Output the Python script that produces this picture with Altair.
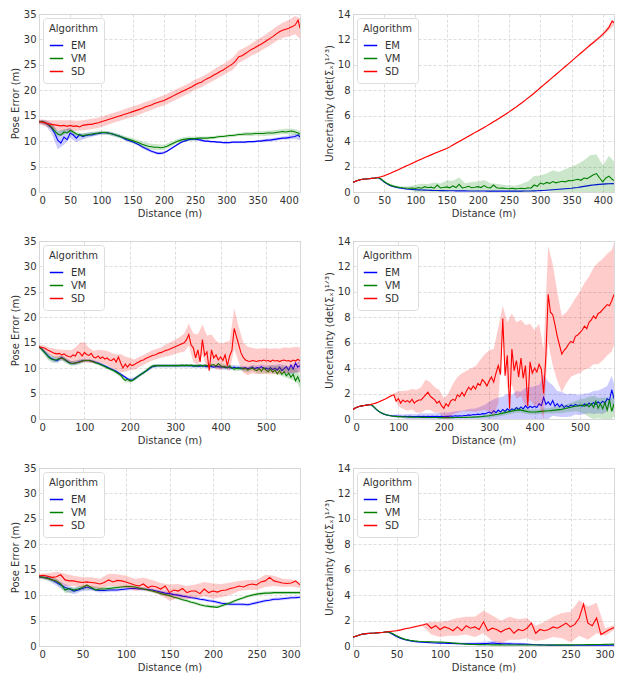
import altair as alt
import pandas as pd

ALGS = ["EM", "VM", "SD"]
COLORS = ["#0000ff", "#008000", "#ff0000"]

# ---------------- Row 1 (0 - 418 m) ----------------
dist_r1 = list(range(0, 416, 5)) + [418]

pose_r1 = {
    "EM": [13.8, 13.9, 13.6, 13.2, 12.6, 11.6, 10.2, 9.6, 10.8, 10.3,
           11.6, 11.2, 10.6, 11.3, 10.9, 11.1, 11.2, 11.2, 11.4, 11.5,
           11.6, 11.7, 11.6, 11.5, 11.3, 11.1, 10.9, 10.6, 10.3, 10.1,
           9.9, 9.6, 9.3, 8.9, 8.6, 8.3, 8.0, 7.8, 7.6, 7.6,
           7.7, 8.0, 8.4, 8.8, 9.2, 9.6, 9.9, 10.1, 10.3, 10.4,
           10.4, 10.3, 10.2, 10.0, 10.0, 9.9, 9.9, 9.8, 9.8, 9.7,
           9.7, 9.7, 9.8, 9.8, 9.8, 9.8, 9.8, 9.9, 9.9, 9.9,
           10.0, 10.0, 10.1, 10.2, 10.2, 10.3, 10.4, 10.5, 10.6, 10.6,
           10.7, 10.8, 10.9, 11.2, 10.8],
    "VM": [13.8, 13.9, 13.6, 13.3, 12.8, 12.0, 11.4, 11.2, 11.8, 11.6,
           12.1, 11.8, 11.4, 11.2, 11.1, 11.2, 11.3, 11.4, 11.5, 11.6,
           11.7, 11.7, 11.6, 11.5, 11.3, 11.1, 10.9, 10.7, 10.5, 10.3,
           10.1, 9.9, 9.7, 9.4, 9.2, 9.0, 8.9, 8.8, 8.8, 8.7,
           8.8, 9.0, 9.3, 9.6, 9.9, 10.1, 10.3, 10.4, 10.5, 10.5,
           10.5, 10.6, 10.6, 10.6, 10.6, 10.7, 10.7, 10.8, 10.9, 10.9,
           11.0, 11.1, 11.1, 11.2, 11.3, 11.3, 11.4, 11.4, 11.4, 11.5,
           11.5, 11.5, 11.5, 11.6, 11.6, 11.6, 11.7, 11.8, 11.9, 11.8,
           11.9, 12.0, 11.8, 11.6, 11.4],
    "SD": [13.8, 13.7, 13.6, 13.4, 13.3, 13.2, 13.1, 13.0, 13.1, 12.9,
           13.1, 12.9, 13.0, 12.8, 13.1, 13.2, 13.3, 13.3, 13.5, 13.6,
           13.8, 14.0, 14.2, 14.4, 14.6, 14.8, 15.0, 15.2, 15.4, 15.6,
           15.8, 16.0, 16.2, 16.4, 16.7, 16.9, 17.1, 17.4, 17.6, 17.8,
           18.0, 18.3, 18.6, 18.9, 19.2, 19.5, 19.8, 20.1, 20.4, 20.7,
           21.1, 21.4, 21.6, 22.0, 22.3, 22.6, 23.0, 23.3, 23.7, 24.0,
           24.4, 24.8, 25.2, 25.8, 26.6, 26.8, 27.2, 27.6, 28.0, 28.3,
           28.7, 29.0, 29.4, 29.8, 30.2, 30.6, 31.1, 31.5, 31.8, 32.0,
           32.2, 32.5, 32.8, 33.8, 32.2],
}
pose_r1_band = {
    "EM": [0.3, 0.5, 1.0, 1.8, 1.5, 1.0, 0.8, 0.6, 0.5, 0.4,
           0.3, 0.3, 0.3, 0.3, 0.3, 0.3, 0.3, 0.3, 0.3, 0.3,
           0.3, 0.2, 0.2, 0.2, 0.2, 0.2, 0.2, 0.2, 0.2, 0.2,
           0.2, 0.2, 0.2, 0.2, 0.2, 0.2, 0.3, 0.3, 0.3, 0.3,
           0.4, 0.5, 0.6],
    "VM": [0.3, 0.4, 0.6, 0.6, 0.5, 0.5, 0.4, 0.4, 0.4, 0.4,
           0.4, 0.4, 0.4, 0.4, 0.4, 0.5, 0.5, 0.6, 0.6, 0.6,
           0.5, 0.5, 0.4, 0.4, 0.4, 0.4, 0.3, 0.3, 0.3, 0.3,
           0.3, 0.3, 0.3, 0.4, 0.4, 0.4, 0.5, 0.5, 0.5, 0.5,
           0.6, 0.6, 0.6],
    "SD": [0.5, 0.6, 0.8, 1.0, 1.0, 1.0, 1.0, 1.0, 1.0, 1.0,
           1.0, 1.0, 1.0, 1.0, 1.0, 1.0, 1.0, 1.0, 1.0, 1.0,
           1.0, 1.0, 1.0, 1.0, 1.0, 1.0, 1.0, 1.0, 1.1, 1.1,
           1.1, 1.2, 1.2, 1.2, 1.2, 1.3, 1.3, 1.4, 1.4, 1.5,
           1.6, 1.8, 2.0],
}

unc_r1 = {
    "EM": [0.75, 0.86, 0.95, 1.0, 1.02, 1.04, 1.07, 1.10, 1.14, 1.0,
           0.78, 0.62, 0.50, 0.42, 0.36, 0.31, 0.27, 0.24, 0.22, 0.20,
           0.18, 0.17, 0.16, 0.15, 0.14, 0.13, 0.12, 0.12, 0.11, 0.11,
           0.10, 0.10, 0.10, 0.09, 0.09, 0.09, 0.09, 0.08, 0.08, 0.08,
           0.08, 0.08, 0.08, 0.07, 0.07, 0.07, 0.07, 0.07, 0.07, 0.07,
           0.07, 0.07, 0.07, 0.07, 0.07, 0.08, 0.08, 0.08, 0.09, 0.10,
           0.11, 0.12, 0.14, 0.16, 0.18, 0.20, 0.22, 0.24, 0.26, 0.28,
           0.30, 0.33, 0.36, 0.40, 0.44, 0.48, 0.52, 0.55, 0.58, 0.60,
           0.62, 0.64, 0.65, 0.66, 0.65],
    "VM": [0.75, 0.86, 0.95, 1.0, 1.02, 1.04, 1.07, 1.10, 1.14, 1.02,
           0.82, 0.66, 0.54, 0.46, 0.40, 0.36, 0.33, 0.31, 0.30, 0.32,
           0.28, 0.35, 0.30, 0.42, 0.33, 0.38, 0.30, 0.55, 0.32, 0.36,
           0.40, 0.33, 0.48, 0.35, 0.60, 0.32, 0.38, 0.45, 0.33, 0.37,
           0.42, 0.35, 0.50, 0.36, 0.33, 0.55, 0.34, 0.30, 0.32, 0.28,
           0.26, 0.30, 0.25, 0.27, 0.30, 0.26, 0.33, 0.30, 0.55, 0.45,
           0.70, 0.62, 0.75, 0.68, 0.82, 0.72, 0.78, 0.85, 0.80, 0.90,
           0.88, 0.95, 1.00, 0.92, 1.10, 1.05, 1.20, 1.35, 1.45, 1.10,
           0.80, 1.10, 1.25, 1.00, 0.90],
    "SD": [0.75, 0.86, 0.95, 1.0, 1.02, 1.04, 1.07, 1.10, 1.14, 1.20,
           1.28, 1.38, 1.48, 1.59, 1.70, 1.81, 1.93, 2.04, 2.15, 2.27,
           2.38, 2.49, 2.60, 2.71, 2.82, 2.92, 3.02, 3.12, 3.22, 3.32,
           3.42, 3.55, 3.69, 3.83, 3.97, 4.11, 4.25, 4.39, 4.53, 4.67,
           4.80, 4.94, 5.08, 5.22, 5.37, 5.52, 5.67, 5.82, 5.98, 6.14,
           6.30, 6.47, 6.64, 6.82, 7.00, 7.19, 7.38, 7.57, 7.77, 7.98,
           8.20, 8.40, 8.61, 8.82, 9.03, 9.24, 9.45, 9.66, 9.87, 10.08,
           10.30, 10.51, 10.72, 10.93, 11.14, 11.35, 11.56, 11.76, 11.97, 12.18,
           12.40, 12.65, 12.95, 13.45, 13.30],
}
unc_r1_band = {
    "EM": [0.03, 0.03, 0.03, 0.03, 0.05, 0.06, 0.06, 0.05, 0.05, 0.04,
           0.03, 0.03, 0.03, 0.03, 0.03, 0.03, 0.03, 0.03, 0.03, 0.03,
           0.03, 0.03, 0.03, 0.03, 0.03, 0.03, 0.03, 0.03, 0.03, 0.03,
           0.03, 0.03, 0.03, 0.03, 0.03, 0.04, 0.04, 0.05, 0.05, 0.05,
           0.05, 0.05, 0.05],
    "VM": [0.03, 0.03, 0.03, 0.03, 0.05, 0.08, 0.08, 0.10, 0.10, 0.15,
           0.30, 0.35, 0.30, 0.45, 0.35, 0.50, 0.40, 0.55, 0.30, 0.45,
           0.40, 0.45, 0.35, 0.30, 0.25, 0.25, 0.25, 0.35, 0.50, 0.70,
           0.60, 0.70, 0.90, 0.80, 1.00, 1.10, 1.20, 1.40, 1.70, 1.50,
           1.30, 1.60, 1.50],
    "SD": [0.03, 0.03, 0.03, 0.03, 0.04, 0.04, 0.04, 0.05, 0.05, 0.05,
           0.05, 0.05, 0.05, 0.05, 0.05, 0.05, 0.05, 0.05, 0.05, 0.05,
           0.05, 0.05, 0.05, 0.05, 0.05, 0.05, 0.05, 0.05, 0.05, 0.05,
           0.05, 0.05, 0.05, 0.05, 0.05, 0.05, 0.06, 0.08, 0.10, 0.10,
           0.15, 0.20, 0.20],
}

# ---------------- Row 2 (0 - 575 m) ----------------
dist_r2 = list(range(0, 576, 5))

pose_r2 = {
    "EM": [14.2, 13.9, 13.4, 12.9, 12.4, 12.0, 11.8, 11.6, 11.5, 11.8,
           12.1, 11.8, 11.5, 11.2, 11.0, 10.9, 11.0, 11.1, 11.3, 11.4,
           11.5, 11.5, 11.5, 11.4, 11.3, 11.1, 11.0, 10.8, 10.6, 10.4,
           10.2, 10.0, 9.8, 9.6, 9.4, 9.1, 8.8, 8.5, 8.2, 7.9,
           7.7, 7.6, 7.9, 8.2, 8.5, 8.8, 9.1, 9.4, 9.7, 10.0,
           10.3, 10.4, 10.5, 10.5, 10.5, 10.5, 10.5, 10.5, 10.5, 10.5,
           10.5, 10.5, 10.5, 10.5, 10.5, 10.5, 10.5, 10.5, 10.4, 10.5,
           10.4, 10.4, 10.5, 10.4, 10.3, 10.4, 10.3, 10.2, 10.3, 10.3,
           10.2, 10.3, 10.1, 10.2, 10.1, 10.0, 10.2, 10.0, 10.1, 9.9,
           10.0, 10.1, 9.9, 10.0, 10.2, 9.9, 10.1, 10.0, 10.3, 9.9,
           10.0, 9.8, 10.1, 9.7, 10.0, 9.6, 10.2, 9.5, 9.9, 10.3,
           9.6, 10.6, 9.8, 11.0, 10.2, 10.5],
    "VM": [14.2, 13.8, 13.3, 12.8, 12.3, 11.9, 11.7, 11.6, 11.7, 11.9,
           12.0, 11.8, 11.4, 11.1, 10.9, 10.9, 11.0, 11.1, 11.2, 11.4,
           11.5, 11.5, 11.5, 11.4, 11.2, 11.0, 10.9, 10.7, 10.5, 10.3,
           10.1, 9.9, 9.7, 9.5, 9.2, 8.9, 8.6, 8.0, 7.6, 7.8,
           7.5, 7.5, 7.8, 8.1, 8.5, 8.8, 9.1, 9.4, 9.8, 10.2,
           10.4, 10.5, 10.5, 10.5, 10.5, 10.5, 10.5, 10.5, 10.5, 10.5,
           10.5, 10.5, 10.5, 10.6, 10.5, 10.6, 10.5, 10.6, 10.5, 10.4,
           10.5, 10.6, 10.4, 10.6, 10.5, 10.3, 10.6, 10.7, 10.4, 10.9,
           10.5, 10.2, 10.3, 10.0, 10.4, 10.0, 9.8, 10.0, 9.9, 10.1,
           9.8, 10.0, 9.6, 9.9, 10.0, 9.7, 9.5, 9.9, 9.4, 10.1,
           9.6, 9.3, 9.8, 9.2, 9.6, 8.9, 9.5, 8.8, 9.3, 8.5,
           9.0, 8.2, 8.8, 7.5, 8.3, 7.2],
    "SD": [14.2, 14.1, 14.0, 13.8, 13.5, 13.3, 13.1, 12.9, 12.8, 12.9,
           12.6, 12.8, 12.5, 12.3, 12.2, 12.6, 12.4, 13.2, 13.0, 12.4,
           13.1, 12.7, 12.5, 12.9, 12.2, 12.0, 12.4, 11.9, 12.2, 11.8,
           12.0, 11.6, 11.5, 11.9, 11.2, 12.2, 11.0, 10.0, 10.8, 10.2,
           10.8, 10.5, 10.7, 11.0, 11.2, 11.5, 11.6, 11.9, 12.1, 12.3,
           12.5, 12.6, 12.8, 13.0, 13.1, 13.3, 13.5, 13.6, 13.8, 14.0,
           14.2, 14.4, 14.6, 14.8, 15.0, 15.6, 16.6, 14.6, 14.0, 12.0,
           13.6, 11.2, 15.6, 12.5, 13.2, 9.5, 13.6, 12.0, 12.6, 11.6,
           12.2, 11.5, 12.6, 10.5, 12.4, 13.5, 17.8, 16.2, 14.6, 13.0,
           12.1, 11.6, 11.4, 11.3, 11.5, 11.4, 11.3, 11.5, 11.4, 11.6,
           11.4, 11.5, 11.3, 11.6, 11.4, 11.5, 11.3, 11.5, 11.6, 11.4,
           11.5, 11.3, 11.6, 11.4, 11.7, 11.5],
}
pose_r2_band = {
    "EM": [0.3, 0.4, 0.5, 0.5, 0.5, 0.5, 0.4, 0.4, 0.4, 0.4,
           0.3, 0.3, 0.3, 0.3, 0.3, 0.3, 0.3, 0.3, 0.3, 0.3,
           0.3, 0.3, 0.3, 0.3, 0.3, 0.3, 0.3, 0.3, 0.3, 0.3,
           0.3, 0.3, 0.3, 0.3, 0.3, 0.3, 0.3, 0.3, 0.3, 0.3,
           0.4, 0.4, 0.4, 0.4, 0.4, 0.4, 0.4, 0.4, 0.4, 0.4,
           0.5, 0.5, 0.6, 0.6, 0.7, 0.8, 0.9, 1.0,
           1.0],
    "VM": [0.3, 0.5, 0.7, 0.7, 0.6, 0.5, 0.5, 0.5, 0.5, 0.5,
           0.3, 0.3, 0.3, 0.3, 0.3, 0.3, 0.3, 0.4, 0.4, 0.4,
           0.3, 0.3, 0.3, 0.3, 0.3, 0.3, 0.3, 0.3, 0.3, 0.3,
           0.3, 0.3, 0.3, 0.3, 0.3, 0.3, 0.3, 0.3, 0.3, 0.3,
           0.4, 0.4, 0.4, 0.4, 0.4, 0.4, 0.5, 0.5, 0.5, 0.5,
           0.6, 0.7, 0.8, 0.9, 1.0, 1.1, 1.2, 1.3,
           1.3],
    "SD": [0.3, 0.5, 0.6, 0.8, 0.9, 1.0, 1.1, 1.3, 1.6, 2.0,
           2.0, 1.5, 1.2, 1.2, 1.3, 1.4, 1.5, 1.5, 1.8, 1.5,
           1.2, 1.0, 1.0, 1.0, 1.0, 1.0, 1.0, 1.0, 1.2, 1.3,
           1.4, 1.5, 1.8, 2.2, 2.8, 3.0, 3.0, 3.2, 3.0, 2.8,
           2.6, 2.5, 3.0, 4.0, 3.5, 3.0, 2.8, 2.5, 2.5, 2.5,
           2.5, 2.5, 2.5, 2.5, 2.5, 2.5, 2.5, 2.5,
           2.5],
}

unc_r2 = {
    "EM": [0.75, 0.86, 0.95, 1.0, 1.03, 1.06, 1.09, 1.12, 1.12, 0.98,
           0.80, 0.64, 0.52, 0.43, 0.36, 0.31, 0.28, 0.25, 0.24, 0.23,
           0.22, 0.21, 0.20, 0.22, 0.19, 0.21, 0.20, 0.19, 0.20, 0.21,
           0.20, 0.22, 0.19, 0.21, 0.20, 0.22, 0.19, 0.21, 0.20, 0.22,
           0.20, 0.22, 0.21, 0.24, 0.22, 0.25, 0.23, 0.26, 0.24, 0.27,
           0.28, 0.32, 0.30, 0.35, 0.33, 0.38, 0.36, 0.42, 0.40, 0.48,
           0.55, 0.45, 0.65, 0.50, 0.70, 0.55, 0.75, 0.60, 0.80, 0.65,
           0.80, 0.70, 0.90, 0.75, 0.95, 0.80, 1.05, 0.85, 1.00, 0.90,
           1.00, 0.90, 1.20, 1.05, 1.70, 1.15, 1.35, 1.10, 1.45, 1.00,
           1.20, 0.95, 1.15, 0.90, 1.05, 0.95, 1.10, 1.00, 1.15, 1.05,
           1.10, 1.00, 1.20, 1.05, 1.25, 1.10, 1.30, 1.15, 1.35, 1.20,
           1.40, 1.25, 1.60, 1.45, 2.30, 1.60],
    "VM": [0.75, 0.86, 0.95, 1.0, 1.03, 1.06, 1.09, 1.12, 1.12, 1.00,
           0.82, 0.66, 0.53, 0.44, 0.37, 0.31, 0.27, 0.24, 0.22, 0.20,
           0.19, 0.18, 0.17, 0.16, 0.16, 0.15, 0.15, 0.14, 0.14, 0.14,
           0.13, 0.13, 0.13, 0.12, 0.12, 0.12, 0.12, 0.12, 0.11, 0.11,
           0.11, 0.11, 0.11, 0.11, 0.11, 0.12, 0.12, 0.12, 0.12, 0.13,
           0.13, 0.14, 0.14, 0.15, 0.16, 0.17, 0.18, 0.20, 0.22, 0.24,
           0.26, 0.29, 0.32, 0.35, 0.38, 0.42, 0.46, 0.50, 0.54, 0.58,
           0.62, 0.66, 0.70, 0.72, 0.70, 0.66, 0.62, 0.58, 0.56, 0.55,
           0.55, 0.56, 0.58, 0.60, 0.62, 0.63, 0.65, 0.66, 0.68, 0.70,
           0.72, 0.74, 0.76, 0.80, 0.84, 0.88, 0.92, 0.96, 1.00, 1.02,
           1.05, 1.10, 1.00, 1.15, 0.95, 1.20, 0.90, 1.40, 0.85, 1.20,
           0.80, 1.30, 0.70, 1.50, 0.60, 1.20],
    "SD": [0.75, 0.86, 0.95, 1.0, 1.03, 1.06, 1.09, 1.12, 1.15, 1.20,
           1.25, 1.32, 1.40, 1.48, 1.56, 1.65, 1.75, 1.85, 1.90, 1.40,
           1.60, 1.25, 1.50, 1.35, 1.45, 1.30, 1.55, 1.25, 1.40, 1.50,
           1.50, 1.70, 1.90, 2.10, 1.80, 1.65, 1.50, 1.25, 1.40, 1.05,
           0.85, 1.20, 1.00, 1.40, 1.55, 1.45, 1.90, 1.75, 2.10, 1.80,
           2.20, 2.50, 2.30, 2.60, 2.35, 2.80, 2.65, 3.10, 2.90, 2.60,
           3.00, 3.30, 2.90, 3.60, 4.20, 3.50, 7.90, 3.40, 5.00, 0.80,
           5.50, 3.80, 4.60, 3.30, 4.80, 3.20, 4.20, 1.00, 4.50, 3.60,
           4.00, 3.70, 4.30, 3.90, 2.00, 5.00, 9.80, 8.40, 8.20, 7.40,
           6.50, 5.80, 5.10, 5.40, 5.60, 5.90, 6.10, 6.00, 6.50, 6.60,
           6.80, 7.00, 7.30, 7.10, 7.60, 7.80, 8.10, 7.90, 8.30, 8.40,
           8.60, 8.80, 9.00, 8.90, 9.30, 9.80],
}
unc_r2_band = {
    "EM": [0.02, 0.03, 0.03, 0.03, 0.03, 0.05, 0.08, 0.08, 0.08, 0.10,
           0.15, 0.15, 0.20, 0.20, 0.20, 0.25, 0.25, 0.25, 0.25, 0.30,
           0.30, 0.30, 0.35, 0.40, 0.40, 0.45, 0.50, 0.50, 0.60, 0.70,
           0.80, 0.90, 1.00, 1.00, 1.20, 1.10, 1.30, 1.20, 1.40, 1.50,
           1.60, 1.50, 1.80, 1.60, 1.20, 1.00, 1.00, 0.90, 0.90, 0.80,
           0.80, 0.80, 0.80, 0.90, 0.90, 1.00, 1.00, 1.10,
           1.20],
    "VM": [0.02, 0.03, 0.03, 0.03, 0.03, 0.05, 0.06, 0.06, 0.06, 0.06,
           0.06, 0.05, 0.05, 0.05, 0.05, 0.05, 0.05, 0.05, 0.05, 0.05,
           0.05, 0.05, 0.05, 0.05, 0.05, 0.06, 0.07, 0.08, 0.10, 0.12,
           0.14, 0.16, 0.18, 0.20, 0.20, 0.20, 0.20, 0.20, 0.20, 0.20,
           0.20, 0.20, 0.20, 0.20, 0.25, 0.25, 0.30, 0.30, 0.35, 0.40,
           0.50, 0.60, 0.80, 0.90, 0.80, 0.90, 1.00, 1.00,
           1.00],
    "SD": [0.02, 0.03, 0.03, 0.03, 0.03, 0.04, 0.04, 0.05, 0.06, 0.10,
           0.60, 0.70, 0.80, 0.80, 0.90, 1.00, 1.20, 1.10, 1.00, 0.90,
           0.80, 1.00, 1.20, 1.40, 1.50, 1.60, 1.70, 1.80, 2.00, 2.20,
           2.40, 2.60, 3.00, 1.00, 2.60, 2.80, 3.00, 3.00, 3.20, 3.00,
           3.00, 3.20, 3.50, 3.80, 4.00, 3.50, 3.00, 2.80, 2.80, 3.00,
           3.20, 3.40, 3.60, 3.80, 4.00, 4.00, 4.00, 4.00,
           4.00],
}

# ---------------- Row 3 (0 - 300 m) ----------------
dist_r3 = list(range(0, 301, 5))

pose_r3 = {
    "EM": [13.6, 13.5, 13.4, 13.0, 12.5, 12.0, 11.5, 11.2, 10.8, 11.0,
           11.3, 11.6, 11.3, 11.0, 10.9, 10.9, 11.0, 11.0, 11.0, 11.1,
           11.2, 11.3, 11.3, 11.2, 11.2, 11.1, 11.0, 10.8, 10.6, 10.4,
           10.3, 10.1, 10.0, 9.8, 9.7, 9.5, 9.4, 9.2, 9.1, 8.9,
           8.8, 8.6, 8.4, 8.3, 8.2, 8.2, 8.2, 8.2, 8.1, 8.3,
           8.5, 8.7, 8.9, 9.0, 9.2, 9.2, 9.3, 9.4, 9.5, 9.5,
           9.6],
    "VM": [13.6, 13.5, 13.3, 13.0, 12.8, 12.2, 11.0, 11.3, 11.0, 11.2,
           11.5, 12.0, 11.5, 11.0, 11.2, 11.2, 11.3, 11.4, 11.5, 11.6,
           11.7, 11.7, 11.6, 11.4, 11.2, 11.0, 10.8, 10.6, 10.3, 10.1,
           9.9, 9.6, 9.4, 9.1, 8.9, 8.6, 8.4, 8.1, 7.9, 7.8,
           7.7, 7.6, 7.9, 8.2, 8.5, 8.9, 9.2, 9.5, 9.8, 10.0,
           10.2, 10.3, 10.4, 10.4, 10.5, 10.5, 10.5, 10.5, 10.5, 10.5,
           10.5],
    "SD": [13.8, 13.9, 13.7, 13.5, 13.6, 14.0, 13.0, 12.8, 12.8, 12.6,
           12.5, 12.6, 12.5, 12.4, 12.2, 12.5, 13.0, 12.6, 12.9, 12.8,
           12.6, 12.3, 12.0, 11.8, 12.2, 11.5, 11.8, 11.6, 11.2, 11.8,
           10.5, 11.0, 10.8, 11.3, 10.5, 10.8, 10.8, 10.3, 11.2, 10.5,
           10.8, 10.6, 10.9, 11.0, 11.3, 11.5, 11.8, 11.6, 12.0, 12.2,
           12.0, 12.6, 12.8, 13.5, 12.8, 12.6, 12.4, 12.3, 12.4, 12.8,
           12.0],
}
pose_r3_band = {
    "EM": [0.3, 0.5, 0.6, 0.7, 0.6, 0.5, 0.4, 0.4, 0.4, 0.3,
           0.3, 0.3, 0.3, 0.3, 0.3, 0.3, 0.3, 0.3, 0.3, 0.3,
           0.3, 0.3, 0.3, 0.3, 0.3, 0.3, 0.3, 0.3, 0.3, 0.3,
           0.3],
    "VM": [0.3, 0.4, 0.5, 0.6, 0.5, 0.5, 0.4, 0.4, 0.4, 0.3,
           0.3, 0.3, 0.3, 0.3, 0.3, 0.3, 0.3, 0.3, 0.3, 0.3,
           0.3, 0.3, 0.3, 0.3, 0.3, 0.3, 0.3, 0.3, 0.3, 0.3,
           0.3],
    "SD": [0.4, 0.6, 1.0, 1.2, 1.0, 1.0, 1.0, 1.0, 1.2, 1.2,
           1.2, 1.2, 1.2, 1.2, 1.2, 1.6, 1.4, 1.3, 1.3, 1.4,
           1.5, 1.3, 1.2, 1.0, 1.0, 1.0, 1.2, 1.0, 0.8, 0.7,
           0.6],
}

unc_r3 = {
    "EM": [0.70, 0.80, 0.92, 0.97, 1.00, 1.02, 1.05, 1.08, 1.12, 0.95,
           0.75, 0.60, 0.50, 0.42, 0.36, 0.32, 0.29, 0.27, 0.25, 0.24,
           0.23, 0.22, 0.21, 0.20, 0.19, 0.18, 0.18, 0.17, 0.17, 0.18,
           0.19, 0.20, 0.24, 0.21, 0.19, 0.18, 0.17, 0.16, 0.15, 0.15,
           0.14, 0.12, 0.10, 0.09, 0.08, 0.07, 0.07, 0.06, 0.06, 0.06,
           0.06, 0.06, 0.06, 0.06, 0.06, 0.06, 0.06, 0.07, 0.07, 0.07,
           0.07],
    "VM": [0.70, 0.80, 0.92, 0.97, 1.00, 1.02, 1.05, 1.08, 1.12, 1.00,
           0.80, 0.64, 0.52, 0.45, 0.40, 0.37, 0.35, 0.34, 0.33, 0.32,
           0.31, 0.29, 0.27, 0.24, 0.21, 0.18, 0.15, 0.13, 0.12, 0.11,
           0.10, 0.10, 0.09, 0.09, 0.09, 0.08, 0.08, 0.08, 0.08, 0.08,
           0.08, 0.08, 0.08, 0.08, 0.08, 0.08, 0.08, 0.09, 0.09, 0.09,
           0.09, 0.10, 0.10, 0.10, 0.11, 0.11, 0.12, 0.12, 0.13, 0.14,
           0.15],
    "SD": [0.70, 0.80, 0.92, 0.97, 1.00, 1.02, 1.05, 1.08, 1.12, 1.16,
           1.20, 1.27, 1.35, 1.42, 1.50, 1.57, 1.65, 1.75, 1.40, 1.60,
           1.30, 1.50, 1.40, 1.20, 1.50, 1.20, 1.60, 1.40, 1.50, 1.30,
           1.90, 1.20, 1.40, 1.30, 1.10, 1.30, 1.40, 1.00, 1.30, 1.20,
           1.40, 1.80, 1.00, 1.30, 1.20, 1.30, 1.50, 1.40, 1.60, 1.80,
           1.50, 1.70, 2.20, 3.30, 1.80, 1.60, 2.20, 0.90, 1.10, 1.30,
           1.45],
}
unc_r3_band = {
    "EM": [0.02, 0.03, 0.03, 0.03, 0.04, 0.06, 0.06, 0.06, 0.06, 0.06,
           0.06, 0.08, 0.08, 0.10, 0.12, 0.15, 0.15, 0.15, 0.12, 0.10,
           0.10, 0.03, 0.03, 0.03, 0.03, 0.03, 0.03, 0.03, 0.03, 0.03,
           0.03],
    "VM": [0.02, 0.03, 0.03, 0.03, 0.04, 0.05, 0.05, 0.05, 0.05, 0.05,
           0.05, 0.04, 0.04, 0.04, 0.04, 0.03, 0.03, 0.03, 0.03, 0.03,
           0.03, 0.03, 0.03, 0.03, 0.03, 0.03, 0.03, 0.03, 0.03, 0.03,
           0.03],
    "SD": [0.02, 0.03, 0.03, 0.03, 0.04, 0.05, 0.06, 0.07, 0.08, 0.50,
           0.60, 0.60, 0.70, 0.70, 0.80, 0.90, 1.00, 0.90, 0.90, 0.80,
           0.80, 0.60, 0.70, 0.80, 1.00, 1.20, 1.40, 1.30, 1.20, 0.30,
           0.20],
}

POSE_TITLE = "Pose Error (m)"
UNC_TITLE = "Uncertainty (det(Σₓ)¹ᐟ³)"
POSE_TICKS = [0, 5, 10, 15, 20, 25, 30, 35]
UNC_TICKS = [0, 2, 4, 6, 8, 10, 12, 14]

PW, PH = 261, 178
GRID = "#d4d4d4"
TXT = "#333333"


def panel(dist, means, bands, ytitle, ymax, yticks, xmax, xticks):
    n = len(dist)
    bidx = list(range(0, n, 2))
    if bidx[-1] != n - 1:
        bidx.append(n - 1)
    for a in ALGS:
        if len(means[a]) != n:
            raise ValueError(f"{ytitle} {a}: {len(means[a])} != {n}")
        if len(bands[a]) != len(bidx):
            raise ValueError(f"{ytitle} {a} band: {len(bands[a])} != {len(bidx)}")

    xenc = alt.X("dist:Q", scale=alt.Scale(domain=[0, xmax], nice=False, zero=False),
                 axis=alt.Axis(title="Distance (m)", values=xticks, format="d"))
    layers = []
    for a, col in zip(ALGS, COLORS):
        bdf = pd.DataFrame({
            "dist": [dist[i] for i in bidx],
            "lo": [max(0.0, means[a][i] - h) for i, h in zip(bidx, bands[a])],
            "hi": [means[a][i] + h for i, h in zip(bidx, bands[a])],
        })
        ldf = pd.DataFrame({"dist": dist, "val": means[a], "alg": a})
        band = alt.Chart(bdf).mark_area(color=col, opacity=0.2, clip=True).encode(
            x=xenc,
            y=alt.Y("lo:Q", scale=alt.Scale(domain=[0, ymax], nice=False),
                    axis=alt.Axis(title=ytitle, values=yticks)),
            y2="hi:Q",
        )
        line = alt.Chart(ldf).mark_line(strokeWidth=1.1, clip=True).encode(
            x=xenc,
            y=alt.Y("val:Q", scale=alt.Scale(domain=[0, ymax], nice=False),
                    axis=alt.Axis(title=ytitle, values=yticks)),
            color=alt.Color("alg:N", scale=alt.Scale(domain=ALGS, range=COLORS),
                            legend=alt.Legend(title="Algorithm", orient="top-left",
                                              offset=4, symbolType="stroke",
                                              symbolStrokeWidth=1.5, symbolSize=180,
                                              fillColor="white", strokeColor="#dddddd",
                                              cornerRadius=3, padding=6, rowPadding=0,
                                              titlePadding=4, labelOffset=7,
                                              titleFontWeight="normal", titleFontSize=10,
                                              labelFontSize=10, titleColor=TXT,
                                              labelColor=TXT)),
        )
        layers += [band, line]
    return alt.layer(*layers).properties(width=PW, height=PH)


p1 = panel(dist_r1, pose_r1, pose_r1_band, POSE_TITLE, 35, POSE_TICKS, 418, list(range(0, 401, 50)))
p2 = panel(dist_r1, unc_r1, unc_r1_band, UNC_TITLE, 14, UNC_TICKS, 418, list(range(0, 401, 50)))
p3 = panel(dist_r2, pose_r2, pose_r2_band, POSE_TITLE, 35, POSE_TICKS, 575, list(range(0, 501, 100)))
p4 = panel(dist_r2, unc_r2, unc_r2_band, UNC_TITLE, 14, UNC_TICKS, 575, list(range(0, 501, 100)))
p5 = panel(dist_r3, pose_r3, pose_r3_band, POSE_TITLE, 35, POSE_TICKS, 300, list(range(0, 301, 50)))
p6 = panel(dist_r3, unc_r3, unc_r3_band, UNC_TITLE, 14, UNC_TICKS, 300, list(range(0, 301, 50)))


def row(a, b):
    return alt.hconcat(a, b, spacing=22).resolve_scale(color="independent").resolve_legend(color="independent")


chart = alt.vconcat(row(p1, p2), row(p3, p4), row(p5, p6), spacing=16).resolve_scale(
    color="independent").resolve_legend(color="independent").properties(
    padding={"left": 1, "top": 0, "right": 2, "bottom": 0}
).configure(font="DejaVu Sans").configure_view(
    stroke="#d9d9d9", strokeWidth=1
).configure_axis(
    grid=True, gridColor=GRID, gridDash=[3, 2], gridWidth=0.8,
    domain=False, ticks=False, labelPadding=3, labelFontSize=10,
    titleFontSize=10, titleFontWeight="normal", labelColor=TXT, titleColor=TXT,
    titlePadding=3,
)

chart.save("out.html", embed_options={"renderer": "svg", "actions": False})
